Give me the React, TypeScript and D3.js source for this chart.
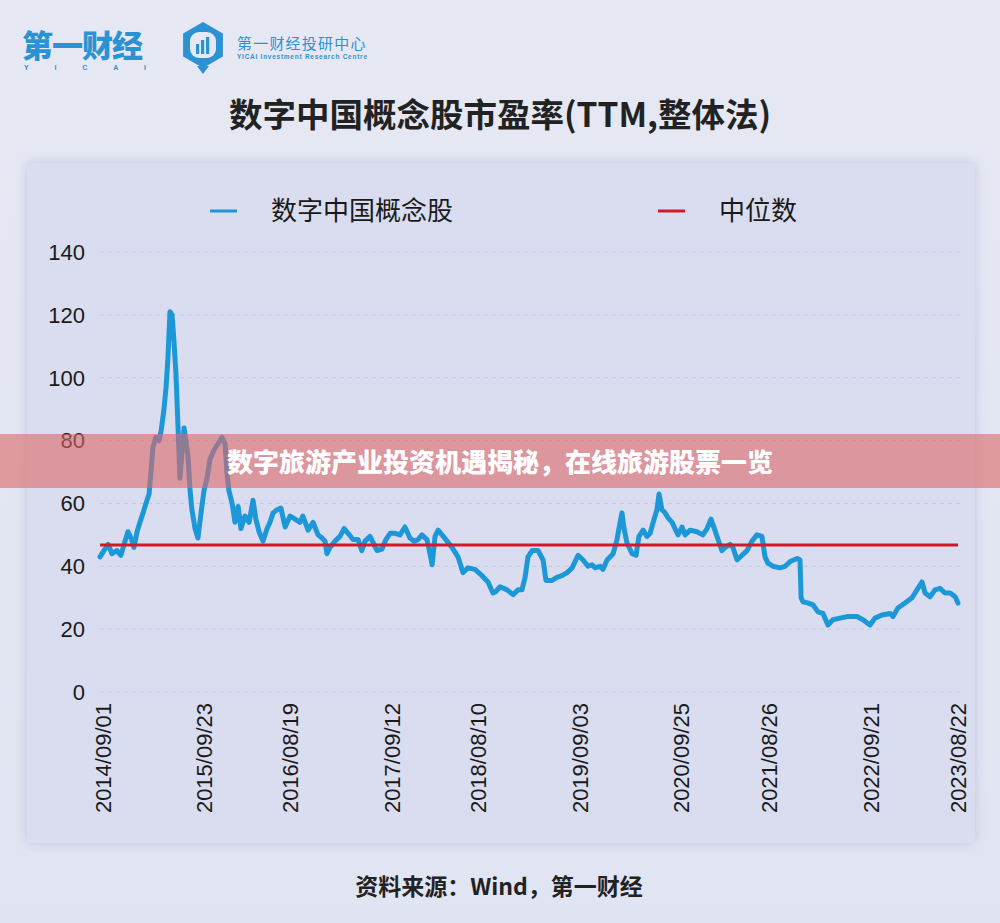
import React, { useEffect, useRef } from 'react';
import * as d3 from 'd3';

// PE (TTM) series
const dates = [
  '2014-09-01', '2014-09-16', '2014-10-02', '2014-10-17', '2014-11-05', '2014-11-20', '2014-12-06', '2014-12-17',
  '2014-12-29', '2015-01-09', '2015-01-21', '2015-02-01', '2015-02-13', '2015-02-24', '2015-03-08', '2015-03-15',
  '2015-03-23', '2015-04-03', '2015-04-15', '2015-04-23', '2015-05-04', '2015-05-12', '2015-05-19', '2015-05-27',
  '2015-06-04', '2015-06-11', '2015-06-19', '2015-06-27', '2015-07-04', '2015-07-12', '2015-07-20', '2015-07-27',
  '2015-08-04', '2015-08-12', '2015-08-19', '2015-08-31', '2015-09-11', '2015-09-23', '2015-10-04', '2015-10-16',
  '2015-10-27', '2015-11-12', '2015-11-27', '2015-12-12', '2015-12-24', '2015-12-31', '2016-01-08', '2016-01-20',
  '2016-01-31', '2016-02-12', '2016-02-23', '2016-03-09', '2016-03-25', '2016-04-09', '2016-04-20', '2016-05-02',
  '2016-05-17', '2016-06-02', '2016-06-13', '2016-06-25', '2016-07-10', '2016-07-25', '2016-08-10', '2016-08-29',
  '2016-09-17', '2016-10-06', '2016-10-17', '2016-11-06', '2016-11-25', '2016-12-14', '2016-12-29', '2017-01-10',
  '2017-01-17', '2017-01-29', '2017-02-17', '2017-03-08', '2017-03-24', '2017-04-08', '2017-04-27', '2017-05-16',
  '2017-05-31', '2017-06-12', '2017-07-01', '2017-07-13', '2017-07-28', '2017-08-16', '2017-08-31', '2017-09-16',
  '2017-10-05', '2017-10-24', '2017-11-12', '2017-12-01', '2017-12-17', '2018-01-01', '2018-01-16', '2018-02-04',
  '2018-02-16', '2018-02-24', '2018-03-07', '2018-03-19', '2018-04-03', '2018-04-22', '2018-05-11', '2018-06-03',
  '2018-06-22', '2018-07-11', '2018-08-07', '2018-09-03', '2018-09-26', '2018-10-15', '2018-10-27', '2018-11-11',
  '2018-12-08', '2018-12-31', '2019-01-19', '2019-02-03', '2019-02-15', '2019-02-26', '2019-03-14', '2019-04-06',
  '2019-04-25', '2019-05-06', '2019-05-29', '2019-06-17', '2019-07-06', '2019-07-26', '2019-08-14', '2019-09-06',
  '2019-09-25', '2019-10-14', '2019-10-29', '2019-11-10', '2019-11-29', '2019-12-10', '2019-12-26', '2020-01-18',
  '2020-02-02', '2020-02-14', '2020-02-21', '2020-02-29', '2020-03-11', '2020-03-31', '2020-04-15', '2020-04-26',
  '2020-05-12', '2020-05-27', '2020-06-08', '2020-06-23', '2020-07-04', '2020-07-12', '2020-07-23', '2020-08-04',
  '2020-08-15', '2020-08-31', '2020-09-11', '2020-09-23', '2020-10-08', '2020-10-20', '2020-11-08', '2020-12-04',
  '2020-12-27', '2021-01-12', '2021-01-27', '2021-02-11', '2021-02-23', '2021-03-10', '2021-03-22', '2021-04-10',
  '2021-04-21', '2021-05-07', '2021-05-26', '2021-06-14', '2021-07-03', '2021-07-22', '2021-08-10', '2021-08-22',
  '2021-09-02', '2021-09-22', '2021-10-18', '2021-11-07', '2021-11-26', '2021-12-23', '2022-01-03', '2022-01-07',
  '2022-01-14', '2022-02-03', '2022-02-22', '2022-03-13', '2022-04-01', '2022-04-20', '2022-05-09', '2022-06-05',
  '2022-07-02', '2022-08-09', '2022-09-01', '2022-09-28', '2022-10-17', '2022-11-13', '2022-12-14', '2022-12-25',
  '2023-01-13', '2023-02-09', '2023-03-08', '2023-03-27', '2023-04-15', '2023-04-27', '2023-05-16', '2023-06-04',
  '2023-06-23', '2023-07-12', '2023-08-01', '2023-08-20', '2023-08-31',
];

const peValues = [
  43, 45, 47, 44, 45, 43.5, 48, 51,
  49, 46, 51, 54, 57, 60, 63, 70,
  78, 81, 80, 83, 90, 97, 106, 121,
  120, 112, 101, 84, 68, 76, 84, 80,
  75, 64, 58, 52, 49, 57, 64, 68,
  74, 77, 79, 81, 79, 70, 64, 60,
  54, 59, 52, 56, 54, 61, 55, 51,
  48, 52, 54, 57, 58, 58.5, 52.5, 56,
  55, 54, 56, 51.5, 54, 50, 49, 48,
  44, 46, 48, 49.5, 52, 50.5, 48.5, 48.5,
  45, 48, 49.5, 47.5, 45, 45.5, 48.5, 50.5,
  50.5, 50, 52.5, 49, 48, 48.5, 50, 48.5,
  44, 40.5, 49.5, 51.5, 50, 48, 46, 43,
  38, 39.5, 39, 37, 35, 31.5, 32, 33.5,
  32.5, 31, 32.5, 32.5, 36.5, 43, 45, 45,
  42, 35.5, 35.5, 36.5, 37, 38, 39.5, 43.5,
  42, 40, 40.5, 39.5, 40, 39, 42, 44,
  48.5, 54, 57, 52, 47.5, 44, 43.5, 49.5,
  51.5, 49.5, 50.5, 55, 58, 63, 58, 57,
  55.5, 54, 52, 50, 52.5, 50, 51.5, 51,
  50, 52, 55, 51.5, 48.5, 45, 46, 47,
  46, 42, 43.5, 45, 48, 50, 49.5, 43,
  41, 40, 39.5, 40, 41.5, 42.5, 42, 30,
  28.7, 28.3, 27.7, 25.5, 25, 21.3, 23, 23.5,
  24, 24, 23, 21.3, 23.5, 24.5, 25, 24,
  26.7, 28.3, 30, 32.5, 35, 31.5, 30.3, 32.5,
  33, 31.5, 31.5, 30.3, 28.3,
];

const medianValue = 46.8;

const yTicks = [0, 20, 40, 60, 80, 100, 120, 140];

const xTickLabels = [
  '2014/09/01', '2015/09/23', '2016/08/19', '2017/09/12', '2018/08/10',
  '2019/09/03', '2020/09/25', '2021/08/26', '2022/09/21', '2023/08/22',
];

const seriesNames = ['数字中国概念股', '中位数'];

const CJK = '"Noto Sans CJK SC", "Noto Sans", sans-serif';
const LATIN = '"Liberation Sans", Arial, sans-serif';

const App = () => {
  const svgRef = useRef<SVGSVGElement>(null);

  useEffect(() => {
    const svg = d3.select(svgRef.current);
    svg.selectAll('*').remove();

    const parse = d3.timeParse('%Y-%m-%d');
    const parseTick = d3.timeParse('%Y/%m/%d');
    const data = dates.map((d, i) => ({ date: parse(d) as Date, value: peValues[i] }));

    const x = d3.scaleTime()
      .domain([parse('2014-09-01') as Date, parse('2023-08-31') as Date])
      .range([100, 958]);
    const y = d3.scaleLinear().domain([0, 140]).range([692, 252]);

    const defs = svg.append('defs');
    const bg = defs.append('linearGradient').attr('id', 'bg').attr('x1', 0).attr('y1', 0).attr('x2', 0).attr('y2', 1);
    bg.append('stop').attr('offset', '0%').attr('stop-color', '#e6e8f4');
    bg.append('stop').attr('offset', '100%').attr('stop-color', '#e1e4f2');
    const shadow = defs.append('filter').attr('id', 'shadow')
      .attr('x', -0.05).attr('y', -0.05).attr('width', 1.1).attr('height', 1.1);
    shadow.append('feDropShadow').attr('dx', 0).attr('dy', 0).attr('stdDeviation', 6)
      .attr('flood-color', '#b8bdd6').attr('flood-opacity', 0.8);

    svg.append('rect').attr('width', 1000).attr('height', 923).attr('fill', 'url(#bg)');

    // logo
    const logo = svg.append('g');
    logo.append('text').attr('x', 22).attr('y', 57)
      .attr('font-family', CJK).attr('font-weight', 900).attr('font-size', 31)
      .attr('letter-spacing', -1).attr('fill', '#2b93d3').text('第一财经');
    logo.append('text').attr('x', 24).attr('y', 70)
      .attr('font-family', LATIN).attr('font-weight', 700).attr('font-size', 7)
      .attr('textLength', 122).attr('lengthAdjust', 'spacing').attr('fill', '#2b93d3').text('YICAI');
    const hex = d3.range(6).map(i => {
      const a = Math.PI / 3 * i - Math.PI / 2;
      return [203 + 23 * Math.cos(a), 45 + 23 * Math.sin(a)];
    });
    logo.append('path').attr('d', 'M' + hex.map(p => p.join(',')).join('L') + 'Z').attr('fill', '#2b93d3');
    logo.append('path').attr('d', 'M197,66 L203,74 L209,66 Z').attr('fill', '#2b93d3');
    logo.append('rect').attr('x', 190).attr('y', 32).attr('width', 26).attr('height', 26).attr('rx', 9).attr('fill', '#e6e8f4');
    [[196, 44, 12], [201, 40, 16], [206, 37, 19]].forEach(([bx, by, bh]) => {
      logo.append('rect').attr('x', bx).attr('y', by).attr('width', 3.2).attr('height', bh - 2).attr('fill', '#2b93d3');
    });
    logo.append('text').attr('x', 237).attr('y', 49)
      .attr('font-family', CJK).attr('font-size', 15).attr('letter-spacing', 1.2).attr('fill', '#2b93d3').text('第一财经投研中心');
    logo.append('text').attr('x', 237).attr('y', 59)
      .attr('font-family', LATIN).attr('font-weight', 700).attr('font-size', 6.5)
      .attr('textLength', 130).attr('fill', '#2b93d3').text('YICAI Investment Research Centre');

    // title
    svg.append('text').attr('x', 500).attr('y', 127).attr('text-anchor', 'middle')
      .attr('font-family', CJK).attr('font-weight', 700).attr('font-size', 33.5).attr('fill', '#222')
      .text('数字中国概念股市盈率(TTM,整体法)');

    // panel
    svg.append('rect').attr('x', 27).attr('y', 163).attr('width', 948).attr('height', 680)
      .attr('rx', 3).attr('fill', '#d9ddef').attr('filter', 'url(#shadow)');

    // legend
    const legendColors = ['#1c98d8', '#d4182b'];
    const legendX = [210, 658];
    seriesNames.forEach((name, i) => {
      svg.append('line').attr('x1', legendX[i]).attr('x2', legendX[i] + 27).attr('y1', 211).attr('y2', 211)
        .attr('stroke', legendColors[i]).attr('stroke-width', 3);
      svg.append('text').attr('x', legendX[i] + 61).attr('y', 220)
        .attr('font-family', CJK).attr('font-size', 26).attr('fill', '#1a1a1a').text(name);
    });

    // grid + y labels
    const g = svg.append('g');
    g.selectAll('line.grid').data(yTicks).enter().append('line')
      .attr('class', 'grid')
      .attr('x1', 100).attr('x2', 960)
      .attr('y1', d => y(d)).attr('y2', d => y(d))
      .attr('stroke', '#c4c9de').attr('stroke-width', 1).attr('stroke-dasharray', '4,4');
    g.selectAll('text.ylab').data(yTicks).enter().append('text')
      .attr('class', 'ylab')
      .attr('x', 85).attr('y', d => y(d)).attr('dy', '0.36em')
      .attr('text-anchor', 'end')
      .attr('font-family', LATIN).attr('font-size', 22).attr('fill', '#1a1a1a')
      .text(d => d);

    // x labels
    g.selectAll('text.xlab').data(xTickLabels).enter().append('text')
      .attr('class', 'xlab')
      .attr('transform', d => `translate(${x(parseTick(d) as Date)},703) rotate(-90)`)
      .attr('dy', '0.48em')
      .attr('text-anchor', 'end')
      .attr('font-family', LATIN).attr('font-size', 22).attr('fill', '#1a1a1a')
      .text(d => d);

    // series line
    const line = d3.line<{ date: Date; value: number }>()
      .x(d => x(d.date))
      .y(d => y(d.value));
    g.append('path').datum(data)
      .attr('d', line)
      .attr('fill', 'none')
      .attr('stroke', '#1c98d8')
      .attr('stroke-width', 5)
      .attr('stroke-linejoin', 'round')
      .attr('stroke-linecap', 'round');

    // median line
    g.append('line')
      .attr('x1', x(data[0].date)).attr('x2', x(data[data.length - 1].date))
      .attr('y1', y(medianValue)).attr('y2', y(medianValue))
      .attr('stroke', '#d4182b').attr('stroke-width', 3);

    // footer
    svg.append('text').attr('x', 499).attr('y', 895).attr('text-anchor', 'middle')
      .attr('font-family', CJK).attr('font-weight', 700).attr('font-size', 23).attr('fill', '#222')
      .text('资料来源：Wind，第一财经');

    // overlay banner
    svg.append('rect').attr('x', 0).attr('y', 434).attr('width', 1000).attr('height', 54)
      .attr('fill', 'rgb(222,103,104)').attr('opacity', 0.6);
    svg.append('text').attr('x', 500).attr('y', 472).attr('text-anchor', 'middle')
      .attr('font-family', CJK).attr('font-weight', 900).attr('font-size', 26).attr('fill', '#ffffff')
      .text('数字旅游产业投资机遇揭秘，在线旅游股票一览');
  }, []);

  return (
    <svg ref={svgRef} width={1000} height={923}
      style={{ position: 'absolute', left: 0, top: 0, display: 'block' }} />
  );
};

export default App;
